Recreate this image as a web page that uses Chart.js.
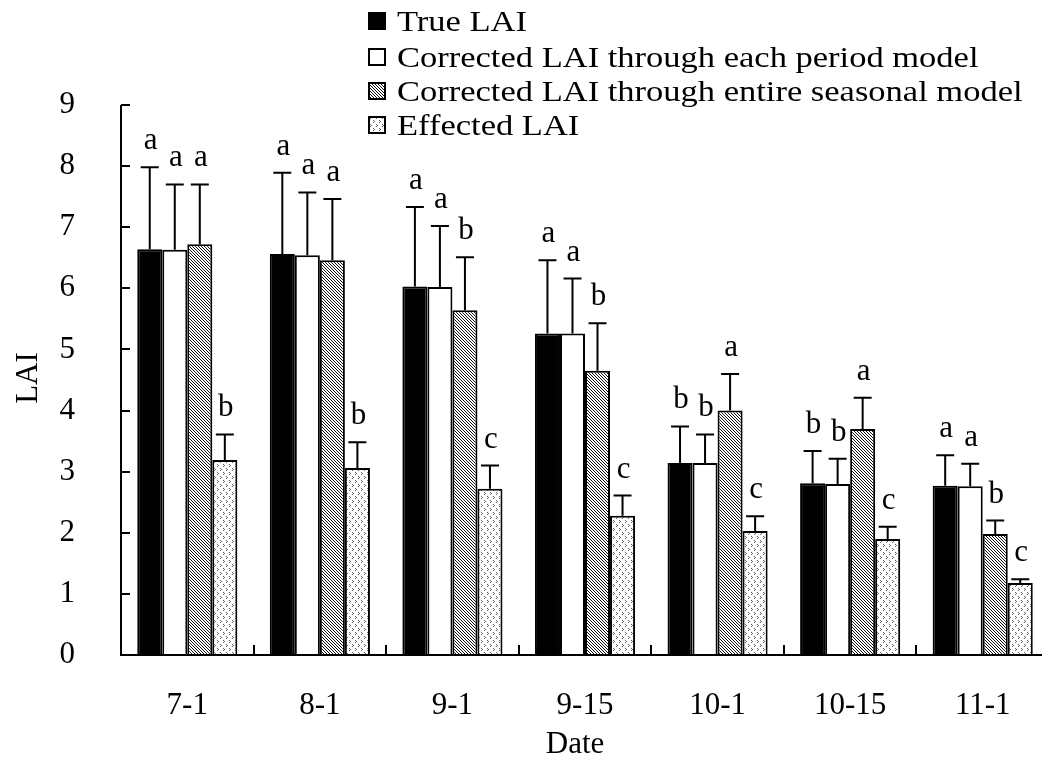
<!DOCTYPE html>
<html>
<head>
<meta charset="utf-8">
<script src="https://cdn.jsdelivr.net/npm/chart.js@4.4.1/dist/chart.umd.min.js"></script>
<style>
  html, body { margin: 0; padding: 0; background: #fff; overflow: hidden; }
  #wrap { width: 1042px; height: 764px; overflow: hidden; }
</style>
</head>
<body>
<div id="wrap"><canvas id="chart" width="1050" height="764"></canvas></div>
<script>
'use strict';

// data
var dates = ['7-1', '8-1', '9-1', '9-15', '10-1', '10-15', '11-1'];
var names = ['True LAI', 'Corrected LAI through each period model',
  'Corrected LAI through entire seasonal model', 'Effected LAI'];

var trueLai = [6.64, 6.56, 6.03, 5.26, 3.14, 2.81, 2.77];
var trueErr = [1.34, 1.33, 1.30, 1.20, 0.60, 0.53, 0.50];
var periodLai = [6.63, 6.54, 6.02, 5.26, 3.14, 2.80, 2.76];
var periodErr = [1.07, 1.03, 1.00, 0.90, 0.47, 0.41, 0.37];
var seasonLai = [6.72, 6.46, 5.64, 4.65, 4.00, 3.70, 1.98];
var seasonErr = [0.98, 1.00, 0.87, 0.78, 0.60, 0.51, 0.22];
var effectLai = [3.19, 3.06, 2.72, 2.28, 2.03, 1.90, 1.18];
var effectErr = [0.42, 0.42, 0.38, 0.33, 0.24, 0.20, 0.06];

var trueSig = ['a', 'a', 'a', 'a', 'b', 'b', 'a'];
var periodSig = ['a', 'a', 'a', 'a', 'b', 'b', 'a'];
var seasonSig = ['a', 'a', 'b', 'b', 'a', 'a', 'b'];
var effectSig = ['b', 'b', 'c', 'c', 'c', 'c', 'c'];

var errors = [trueErr, periodErr, seasonErr, effectErr];
var sigs = [trueSig, periodSig, seasonSig, effectSig];

var FONT = "'Liberation Serif', 'Times New Roman', serif";

// fill patterns
function hatch() {
  var c = document.createElement('canvas');
  c.width = 3; c.height = 3;
  var g = c.getContext('2d');
  g.fillStyle = '#fff';
  g.fillRect(0, 0, 3, 3);
  g.fillStyle = '#111';
  for (var i = 0; i < 3; i++) g.fillRect(i, i, 1, 1);
  return g.createPattern(c, 'repeat');
}

function dots() {
  var c = document.createElement('canvas');
  c.width = 6; c.height = 8;
  var g = c.getContext('2d');
  g.fillStyle = '#fff';
  g.fillRect(0, 0, 6, 8);
  g.fillStyle = '#666';
  g.fillRect(1, 0, 1, 1); g.fillRect(2, 1, 1, 1); g.fillRect(1, 2, 1, 1);
  g.fillRect(4, 4, 1, 1); g.fillRect(5, 5, 1, 1); g.fillRect(4, 6, 1, 1);
  return g.createPattern(c, 'repeat');
}

var fills = ['#000', '#fff', hatch(), dots()];

var extras = {
  id: 'extras',
  afterDatasetsDraw: function(chart) {
    var ctx = chart.ctx;
    var ys = chart.scales.y;
    ctx.save();
    ctx.strokeStyle = '#000';
    ctx.lineWidth = 2;
    ctx.fillStyle = '#000';
    ctx.font = '31px ' + FONT;
    ctx.textAlign = 'center';
    ctx.textBaseline = 'alphabetic';
    chart.data.datasets.forEach(function(ds, i) {
      var meta = chart.getDatasetMeta(i);
      meta.data.forEach(function(bar, j) {
        var top = ys.getPixelForValue(ds.data[j] + errors[i][j]);
        ctx.beginPath();
        ctx.moveTo(bar.x, bar.y);
        ctx.lineTo(bar.x, top);
        ctx.moveTo(bar.x - 9, top);
        ctx.lineTo(bar.x + 9, top);
        ctx.stroke();
        ctx.fillText(sigs[i][j], bar.x + 1, top - 18);
      });
    });
    ctx.restore();
  },
  afterDraw: function(chart) {
    var ctx = chart.ctx;
    var a = chart.chartArea;
    var ys = chart.scales.y;
    ctx.save();
    ctx.strokeStyle = '#000';
    ctx.lineWidth = 2;
    // axes
    ctx.beginPath();
    ctx.moveTo(a.left, a.top);
    ctx.lineTo(a.left, a.bottom);
    ctx.lineTo(a.right, a.bottom);
    ctx.stroke();
    // inward ticks
    ctx.beginPath();
    for (var v = 0; v <= 9; v++) {
      var py = Math.round(ys.getPixelForValue(v));
      ctx.moveTo(a.left, py);
      ctx.lineTo(a.left + 9, py);
    }
    var w = (a.right - a.left) / dates.length;
    for (var k = 1; k <= dates.length; k++) {
      var px = Math.round(a.left + k * w);
      ctx.moveTo(px, a.bottom);
      ctx.lineTo(px, a.bottom - 10);
    }
    ctx.stroke();

    // axis titles
    ctx.fillStyle = '#000';
    ctx.font = '31px ' + FONT;
    ctx.textAlign = 'center';
    ctx.textBaseline = 'middle';
    ctx.fillText('Date', 575, 745);
    ctx.save();
    ctx.translate(29, 378);
    ctx.rotate(-Math.PI / 2);
    ctx.fillText('LAI', 0, 0);
    ctx.restore();

    // legend (text in the figure is a bit wide, so stretch it)
    ctx.font = '30px ' + FONT;
    ctx.textAlign = 'left';
    ctx.textBaseline = 'middle';
    var rows = [21, 57, 91, 125];
    names.forEach(function(n, i) {
      ctx.fillStyle = fills[i];
      ctx.fillRect(369, rows[i] - 8, 16, 16);
      ctx.lineWidth = 2;
      ctx.strokeRect(369, rows[i] - 8, 16, 16);
      ctx.fillStyle = '#000';
      ctx.save();
      ctx.translate(397, rows[i] + 2);
      ctx.scale(1.15, 1);
      ctx.fillText(n, 0, 0);
      ctx.restore();
    });
    ctx.restore();
  }
};

var datasets = [trueLai, periodLai, seasonLai, effectLai].map(function(d, i) {
  return {
    label: names[i],
    data: d,
    backgroundColor: fills[i],
    borderColor: '#000',
    borderWidth: 2,
    borderSkipped: 'bottom',
    categoryPercentage: 0.755,
    barPercentage: 1.0
  };
});

new Chart(document.getElementById('chart'), {
  type: 'bar',
  data: { labels: dates, datasets: datasets },
  options: {
    responsive: false,
    animation: false,
    layout: { padding: { top: 105, right: 1, left: 0, bottom: 0 } },
    plugins: { legend: { display: false }, tooltip: { enabled: false } },
    scales: {
      x: {
        grid: { display: false },
        border: { display: false },
        ticks: { color: '#000', font: { family: FONT, size: 31 }, padding: 24 },
        afterFit: function(s) { s.height = 109; }
      },
      y: {
        min: 0,
        max: 9,
        grid: { display: false },
        border: { display: false },
        ticks: { stepSize: 1, color: '#000', font: { family: FONT, size: 31 }, padding: 38 },
        afterFit: function(s) { s.width = 121; }
      }
    }
  },
  plugins: [extras]
});
</script>
</body>
</html>
